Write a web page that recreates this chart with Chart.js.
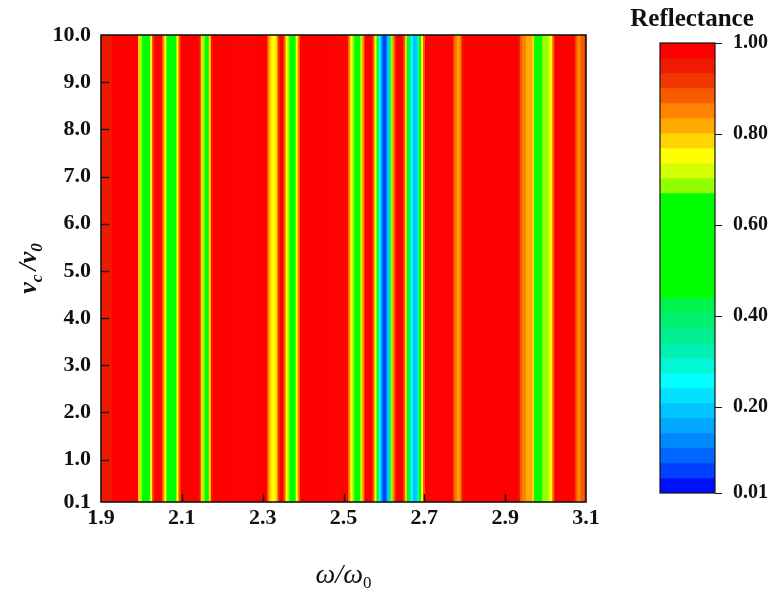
<!DOCTYPE html>
<html>
<head>
<meta charset="utf-8">
<script src="https://cdn.jsdelivr.net/npm/chart.js@4.4.1/dist/chart.umd.min.js"></script>
<style>
  html, body { margin: 0; padding: 0; background: #ffffff; }
  #wrap { position: relative; width: 774px; height: 590px; overflow: hidden; }
  #main { position: absolute; left: 0; top: 0; }
  #bar  { position: absolute; left: 600px; top: 0; }
</style>
</head>
<body>
<div id="wrap">
  <canvas id="main" width="774" height="590"></canvas>
  <canvas id="bar" width="174" height="590"></canvas>
</div>
<script>
// ω/ω0 sample grid (reflectance does not change along vc/v0)
const omega = [
  1.900,1.905,1.910,1.915,1.920,1.925,1.930,1.935,1.940,1.945,
  1.950,1.955,1.960,1.965,1.970,1.975,1.980,1.985,1.990,1.995,
  2.000,2.005,2.010,2.015,2.020,2.025,2.030,2.035,2.040,2.045,
  2.050,2.055,2.060,2.065,2.070,2.075,2.080,2.085,2.090,2.095,
  2.100,2.105,2.110,2.115,2.120,2.125,2.130,2.135,2.140,2.145,
  2.150,2.155,2.160,2.165,2.170,2.175,2.180,2.185,2.190,2.195,
  2.200,2.205,2.210,2.215,2.220,2.225,2.230,2.235,2.240,2.245,
  2.250,2.255,2.260,2.265,2.270,2.275,2.280,2.285,2.290,2.295,
  2.300,2.305,2.310,2.315,2.320,2.325,2.330,2.335,2.340,2.345,
  2.350,2.355,2.360,2.365,2.370,2.375,2.380,2.385,2.390,2.395,
  2.400,2.405,2.410,2.415,2.420,2.425,2.430,2.435,2.440,2.445,
  2.450,2.455,2.460,2.465,2.470,2.475,2.480,2.485,2.490,2.495,
  2.500,2.505,2.510,2.515,2.520,2.525,2.530,2.535,2.540,2.545,
  2.550,2.555,2.560,2.565,2.570,2.575,2.580,2.585,2.590,2.595,
  2.600,2.605,2.610,2.615,2.620,2.625,2.630,2.635,2.640,2.645,
  2.650,2.655,2.660,2.665,2.670,2.675,2.680,2.685,2.690,2.695,
  2.700,2.705,2.710,2.715,2.720,2.725,2.730,2.735,2.740,2.745,
  2.750,2.755,2.760,2.765,2.770,2.775,2.780,2.785,2.790,2.795,
  2.800,2.805,2.810,2.815,2.820,2.825,2.830,2.835,2.840,2.845,
  2.850,2.855,2.860,2.865,2.870,2.875,2.880,2.885,2.890,2.895,
  2.900,2.905,2.910,2.915,2.920,2.925,2.930,2.935,2.940,2.945,
  2.950,2.955,2.960,2.965,2.970,2.975,2.980,2.985,2.990,2.995,
  3.000,3.005,3.010,3.015,3.020,3.025,3.030,3.035,3.040,3.045,
  3.050,3.055,3.060,3.065,3.070,3.075,3.080,3.085,3.090,3.095,
  3.100
];

// Reflectance at each ω/ω0 sample
const reflectance = [
  0.95,0.95,0.95,0.95,0.95,0.95,1.00,1.00,1.00,1.00,
  1.00,1.00,1.00,1.00,1.00,1.00,1.00,1.00,0.97,0.80,
  0.70,0.60,0.55,0.57,0.64,0.76,0.92,1.00,1.00,1.00,
  1.00,0.84,0.74,0.62,0.55,0.52,0.55,0.62,0.75,0.90,
  1.00,1.00,1.00,1.00,1.00,1.00,1.00,1.00,1.00,0.95,
  0.78,0.68,0.60,0.66,0.77,0.96,1.00,1.00,1.00,1.00,
  1.00,1.00,1.00,1.00,1.00,1.00,1.00,1.00,1.00,1.00,
  1.00,1.00,1.00,1.00,1.00,1.00,1.00,1.00,1.00,1.00,
  1.00,1.00,0.97,0.86,0.78,0.75,0.76,0.80,0.92,1.00,
  1.00,0.90,0.76,0.68,0.58,0.55,0.62,0.74,0.84,0.98,
  1.00,1.00,1.00,1.00,1.00,1.00,1.00,1.00,1.00,1.00,
  1.00,1.00,1.00,1.00,1.00,1.00,1.00,1.00,1.00,1.00,
  1.00,1.00,1.00,0.86,0.76,0.68,0.58,0.55,0.60,0.72,
  0.84,0.98,1.00,1.00,1.00,0.90,0.76,0.55,0.26,0.16,
  0.05,0.07,0.20,0.35,0.68,0.86,0.95,0.98,1.00,0.98,
  0.93,0.80,0.58,0.34,0.26,0.18,0.20,0.30,0.55,0.75,
  0.88,1.00,1.00,1.00,1.00,1.00,1.00,1.00,1.00,1.00,
  1.00,1.00,1.00,1.00,0.97,0.90,0.84,0.82,0.86,0.96,
  1.00,1.00,1.00,1.00,1.00,1.00,1.00,1.00,1.00,1.00,
  1.00,1.00,1.00,1.00,1.00,1.00,1.00,1.00,1.00,1.00,
  1.00,1.00,1.00,1.00,1.00,1.00,1.00,0.96,0.90,0.86,
  0.84,0.82,0.81,0.81,0.79,0.62,0.55,0.56,0.62,0.69,
  0.70,0.69,0.72,0.76,0.90,1.00,1.00,1.00,1.00,1.00,
  1.00,1.00,1.00,1.00,1.00,0.92,0.86,0.86,0.90,0.88,
  0.95
];

// vc/v0 range covered by the map
const velocityRange = [0.1, 10.0];

// Tick values
const omegaTicks = [1.9, 2.1, 2.3, 2.5, 2.7, 2.9, 3.1];
const velocityTicks = [0.1, 1, 2, 3, 4, 5, 6, 7, 8, 9, 10];
const reflectanceTicks = [0.01, 0.20, 0.40, 0.60, 0.80, 1.00];

// Contour level boundaries (30 levels)
const levelEdges = [
  0.010,0.043,0.076,0.109,0.142,0.175,0.208,0.241,0.274,0.307,
  0.340,0.373,0.406,0.439,0.472,0.505,0.538,0.571,0.604,0.637,
  0.670,0.703,0.736,0.769,0.802,0.835,0.868,0.901,0.934,0.967,
  1.000
];

// Level fill colours, lowest level first
const levelColors = [
  '#0010ff','#0040ff','#0066ff','#0088ff','#00a6ff','#00c4ff','#00e2ff','#00ffff',
  '#00f8d4','#00f2b2','#00f090','#00f070','#00f24e',
  '#00ff00','#00ff00','#00ff00','#00ff00','#00ff00','#00ff00','#00ff00',
  '#92ff00','#d4ff00','#ffff00','#ffd400','#ffaa00','#ff8200','#f85a00','#f23600','#f01a00','#ff0000'
];

function levelColor(v) {
  for (let k = 0; k < levelColors.length; k++) {
    if (v < levelEdges[k + 1]) return levelColors[k];
  }
  return levelColors[levelColors.length - 1];
}

const SERIF = "'Liberation Serif', 'Times New Roman', serif";

// Each map cell spans half-way to its neighbours along ω
const cells = omega.map((w, i) => {
  const lo = i > 0 ? (omega[i - 1] + w) / 2 : w - (omega[1] - omega[0]) / 2;
  const hi = i < omega.length - 1 ? (omega[i + 1] + w) / 2 : w + (w - omega[i - 1]) / 2;
  return { x: [lo, hi], y: 'map' };
});

function drawPieces(ctx, pieces, cx, cy) {
  let total = 0;
  pieces.forEach(p => { ctx.font = p.font; p.w = ctx.measureText(p.t).width; total += p.w + (p.gap || 0); });
  let x = cx - total / 2;
  pieces.forEach(p => {
    ctx.font = p.font;
    ctx.fillText(p.t, x, cy + (p.dy || 0));
    x += p.w + (p.gap || 0);
  });
}

const mapDecor = {
  id: 'mapDecor',
  afterDraw(chart) {
    const { ctx, chartArea: a, scales } = chart;
    const xs = scales.x, ys = scales.yv;
    ctx.save();
    ctx.strokeStyle = '#151515';
    ctx.lineWidth = 1.5;
    ctx.beginPath();
    omegaTicks.forEach(v => {
      if (v <= xs.min || v >= xs.max) return;
      const p = Math.round(xs.getPixelForValue(v)) + 0.5;
      ctx.moveTo(p, a.bottom); ctx.lineTo(p, a.bottom - 8);
    });
    velocityTicks.forEach(v => {
      if (v <= ys.min || v >= ys.max) return;
      const p = Math.round(ys.getPixelForValue(v)) + 0.5;
      ctx.moveTo(a.left, p); ctx.lineTo(a.left + 8, p);
    });
    ctx.stroke();
    ctx.lineWidth = 1.6;
    ctx.strokeRect(a.left, a.top, a.right - a.left, a.bottom - a.top);

    // axis titles
    ctx.fillStyle = '#111';
    ctx.textBaseline = 'alphabetic';
    drawPieces(ctx, [
      { t: 'ω', font: 'italic 28px ' + SERIF },
      { t: '/', font: 'italic 28px ' + SERIF },
      { t: 'ω', font: 'italic 28px ' + SERIF },
      { t: '0', font: '17px ' + SERIF, dy: 5 }
    ], (a.left + a.right) / 2, 583);

    ctx.translate(36, (a.top + a.bottom) / 2);
    ctx.rotate(-Math.PI / 2);
    drawPieces(ctx, [
      { t: 'v', font: 'italic bold 26px ' + SERIF },
      { t: 'c', font: 'italic bold 17px ' + SERIF, dy: 6, gap: 4 },
      { t: '/', font: 'italic bold 26px ' + SERIF },
      { t: 'v', font: 'italic bold 26px ' + SERIF },
      { t: '0', font: 'italic bold 17px ' + SERIF, dy: 6 }
    ], 0, 0);
    ctx.restore();
  }
};

new Chart(document.getElementById('main'), {
  type: 'bar',
  data: {
    labels: ['map'],
    datasets: [{
      data: cells,
      backgroundColor: reflectance.map(levelColor),
      borderWidth: 0,
      barPercentage: 1,
      categoryPercentage: 1
    }]
  },
  options: {
    indexAxis: 'y',
    responsive: false,
    animation: false,
    events: [],
    plugins: { legend: { display: false }, tooltip: { enabled: false } },
    layout: { padding: { top: 35, right: 188, left: 0, bottom: 0 } },
    scales: {
      x: {
        type: 'linear', position: 'bottom', offset: false,
        min: omegaTicks[0], max: omegaTicks[omegaTicks.length - 1],
        afterBuildTicks: s => { s.ticks = omegaTicks.map(v => ({ value: v })); },
        afterFit: s => { s.height = 88; },
        grid: { display: false, drawTicks: false },
        border: { display: false },
        ticks: {
          padding: 3, color: '#111', autoSkip: false, maxRotation: 0,
          font: { family: SERIF, size: 22, weight: 'bold' },
          callback: v => Number(v).toFixed(1)
        }
      },
      y: { type: 'category', display: false },
      yv: {
        type: 'linear', position: 'left', offset: false,
        min: velocityRange[0], max: velocityRange[1],
        afterBuildTicks: s => { s.ticks = velocityTicks.map(v => ({ value: v })); },
        afterFit: s => { s.width = 101; },
        grid: { display: false, drawTicks: false, offset: false },
        border: { display: false },
        ticks: {
          padding: 10, color: '#111', autoSkip: false,
          font: { family: SERIF, size: 22, weight: 'bold' },
          callback: v => Number(v).toFixed(1)
        }
      }
    }
  },
  plugins: [mapDecor]
});

const barDecor = {
  id: 'barDecor',
  afterDraw(chart) {
    const { ctx, chartArea: a, scales } = chart;
    ctx.save();
    ctx.strokeStyle = '#151515';
    ctx.lineWidth = 1.2;
    ctx.strokeRect(a.left, a.top, a.right - a.left, a.bottom - a.top);
    ctx.beginPath();
    reflectanceTicks.forEach(v => {
      const p = Math.round(scales.y.getPixelForValue(v)) + 0.5;
      ctx.moveTo(a.right, p); ctx.lineTo(a.right + 7, p);
    });
    ctx.stroke();
    ctx.fillStyle = '#111';
    ctx.font = 'bold 25px ' + SERIF;
    ctx.textAlign = 'center';
    ctx.textBaseline = 'alphabetic';
    ctx.fillText('Reflectance', 92, 26);
    ctx.restore();
  }
};

new Chart(document.getElementById('bar'), {
  type: 'bar',
  data: {
    labels: ['scale'],
    datasets: [{
      data: levelColors.map((c, k) => ({ x: 'scale', y: [levelEdges[k], levelEdges[k + 1]] })),
      backgroundColor: levelColors,
      borderWidth: 0,
      barPercentage: 1,
      categoryPercentage: 1
    }]
  },
  options: {
    responsive: false,
    animation: false,
    events: [],
    plugins: { legend: { display: false }, tooltip: { enabled: false } },
    layout: { padding: { left: 60, top: 43, bottom: 97, right: 0 } },
    scales: {
      x: { display: false },
      y: {
        type: 'linear', position: 'right',
        min: reflectanceTicks[0], max: reflectanceTicks[reflectanceTicks.length - 1],
        afterBuildTicks: s => { s.ticks = reflectanceTicks.map(v => ({ value: v })); },
        afterFit: s => { s.width = 59; },
        grid: { display: false, drawTicks: false },
        border: { display: false },
        ticks: {
          padding: 18, color: '#111', autoSkip: false,
          font: { family: SERIF, size: 20, weight: 'bold' },
          callback: v => Number(v).toFixed(2)
        }
      }
    }
  },
  plugins: [barDecor]
});
</script>
</body>
</html>
